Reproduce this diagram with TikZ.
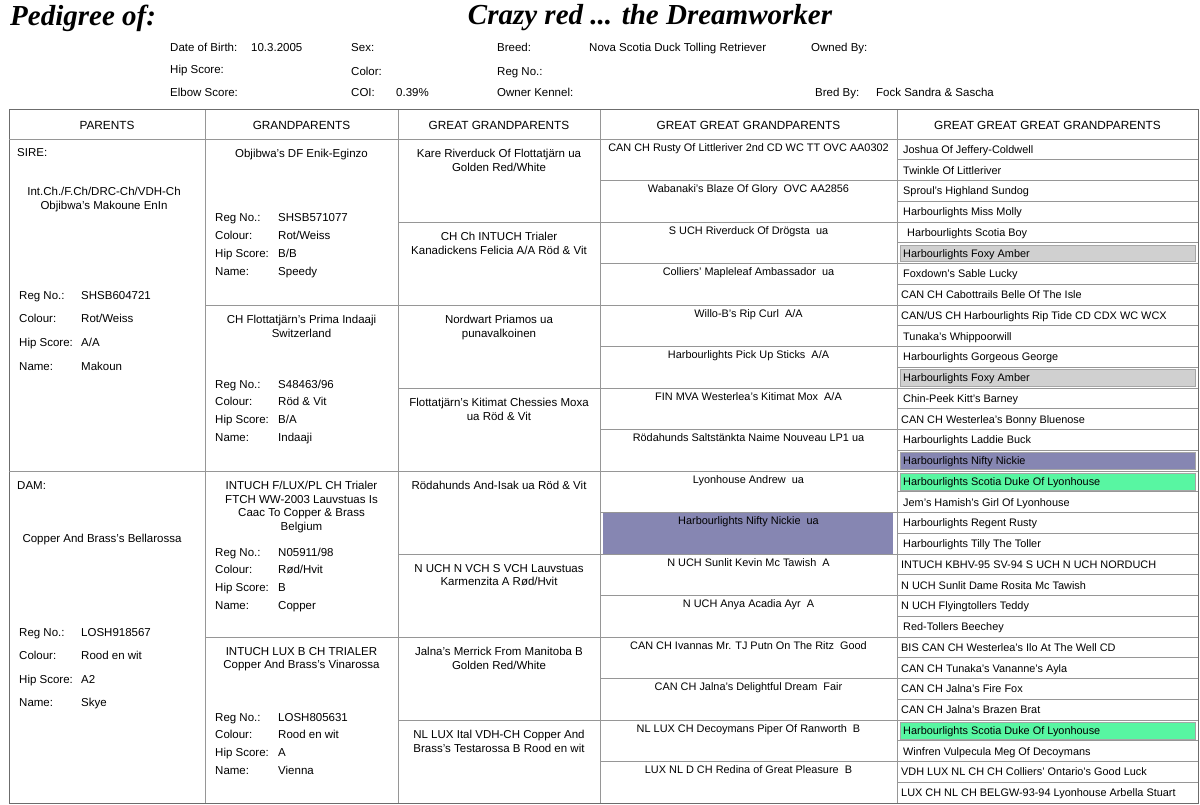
\documentclass[tikz,border=0pt]{standalone}
\usepackage{fontspec}
\setmainfont{Liberation Sans}
\newfontfamily\titleserif{Liberation Serif}
\usetikzlibrary{positioning}

\definecolor{nickie}{RGB}{134,134,178}
\definecolor{duke}{RGB}{88,246,162}
\definecolor{amber}{RGB}{208,208,208}
\definecolor{rulegray}{RGB}{150,150,150}

\begin{document}
\begin{tikzpicture}[
    x=1pt, y=-1pt,
    font=\fontsize{11.5}{13.5}\selectfont,
    rule/.style      = {rulegray, line width=0.9pt},
    frame/.style     = {gray!85!black, line width=1pt},
    bigtitle/.style  = {font=\titleserif\fontsize{29}{32}\selectfont\bfseries\itshape, inner sep=0pt},
    info/.style      = {anchor=base west, inner sep=0pt, yshift=-4pt},
    colhead/.style   = {inner sep=0pt, font=\fontsize{11.8}{14}\selectfont},
    dogname/.style   = {anchor=north, align=center, inner sep=0pt},
    smallname/.style = {dogname, font=\fontsize{10.9}{13}\selectfont},
    ancestor/.style  = {anchor=base west, inner sep=0pt, yshift=-3.9pt, font=\fontsize{10.9}{13}\selectfont},
    tint/.style      = {draw=gray!70, line width=0.4pt}
  ]

\useasboundingbox (0,0) rectangle (1200,805);

% =========================================================
% TITLE & GENERAL DATA
% =========================================================
\node[bigtitle, anchor=west] (title) at (10,18) {Pedigree of:};
\node[bigtitle] (dogtitle) at (650,18) {Crazy red ... the Dreamworker};

\node[info] (dob)     at (170,48) {Date of Birth:};
\node[info] (dob-v)   at (251,48) {10.3.2005};
\node[info] (hip)     at (170,70) {Hip Score:};
\node[info] (elbow)   at (170,93) {Elbow Score:};
\node[info] (sex)     at (351,48) {Sex:};
\node[info] (color)   at (351,72) {Color:};
\node[info] (coi)     at (351,93) {COI:};
\node[info] (coi-v)   at (396,93) {0.39\%};
\node[info] (breed)   at (497,48) {Breed:};
\node[info] (breed-v) at (589,48) {Nova Scotia Duck Tolling Retriever};
\node[info] (regno)   at (497,72) {Reg No.:};
\node[info] (kennel)  at (497,93) {Owner Kennel:};
\node[info] (owned)   at (811,48) {Owned By:};
\node[info] (bred)    at (815,93) {Bred By:};
\node[info] (bred-v)  at (876,93) {Fock Sandra \& Sascha};

% =========================================================
% HIGHLIGHTED ANCESTORS (repeated in the pedigree)
% =========================================================
\fill[nickie] (603,{139+41.5*9}) rectangle (893,{139+41.5*10});
\foreach \r/\tone in {5/amber, 11/amber, 15/nickie, 16/duke, 28/duke}
  \filldraw[fill=\tone, tint] (900,{139+20.75*\r+2}) rectangle (1195,{139+20.75*(\r+1)-2});

% =========================================================
% TABLE RULES
% =========================================================
\draw[frame] (9,110) rectangle (1198,803);
\draw[rule] (9,139) -- (1198,139);
\foreach \cx in {205,398,600,897} \draw[rule] (\cx,110) -- (\cx,803);
\draw[rule] (9,471) -- (205,471);
\foreach \k in {1,2,3}    \draw[rule] (205,{139+166*\k}) -- (398,{139+166*\k});
\foreach \k in {1,...,7}  \draw[rule] (398,{139+83*\k}) -- (600,{139+83*\k});
\foreach \k in {1,...,15} \draw[rule] (600,{139+41.5*\k}) -- (897,{139+41.5*\k});
\foreach \k in {1,...,31} \draw[rule] (897,{139+20.75*\k}) -- (1198,{139+20.75*\k});

% column headers
\foreach \cl/\cr/\hd [count=\c] in {9/205/PARENTS, 205/398/GRANDPARENTS,
    398/600/GREAT GRANDPARENTS, 600/897/GREAT GREAT GRANDPARENTS,
    897/1198/GREAT GREAT GREAT GRANDPARENTS}
  \node[colhead] (head-\c) at ({(\cl+\cr)/2},125) {\hd};

% =========================================================
% PARENTS
% =========================================================
\node[info] (sire-role) at (17,153) {SIRE:};
\node[dogname] (sire) at (104,187) {Int.Ch./F.Ch/DRC-Ch/VDH-Ch\\Objibwa's Makoune EnIn};
\foreach \lbl/\val [count=\k from 0] in {Reg No.:/SHSB604721, Colour:/{Rot/Weiss},
    Hip Score:/{A/A}, Name:/Makoun} {
  \node[info] (sire-l\k) at (19,{295+23.7*\k}) {\lbl};
  \node[info] (sire-v\k) at (81,{295+23.7*\k}) {\val};
}

\node[info] (dam-role) at (17,485) {DAM:};
\node[dogname] (dam) at (102,534) {Copper And Brass's Bellarossa};
\foreach \lbl/\val [count=\k from 0] in {Reg No.:/LOSH918567, Colour:/Rood en wit,
    Hip Score:/A2, Name:/Skye} {
  \node[info] (dam-l\k) at (19,{632+23.5*\k}) {\lbl};
  \node[info] (dam-v\k) at (81,{632+23.5*\k}) {\val};
}

% =========================================================
% GRANDPARENTS
% =========================================================
\foreach \top/\nm/\dy/\reg/\col/\hip/\call [count=\g] in {
    139/{Objibwa's DF Enik-Eginzo}/79/SHSB571077/{Rot/Weiss}/{B/B}/Speedy,
    305/{CH Flottatjärn's Prima Indaaji\\Switzerland}/79/{S48463/96}/{Röd \& Vit}/{B/A}/Indaaji,
    471/{INTUCH F/LUX/PL CH Trialer\\FTCH WW-2003 Lauvstuas Is\\Caac To Copper \& Brass\\Belgium}/81/{N05911/98}/{Rød/Hvit}/B/Copper,
    637/{INTUCH LUX B CH TRIALER\\Copper And Brass's Vinarossa}/80/LOSH805631/{Rood en wit}/A/Vienna} {
  \node[dogname] (gp-\g) at (301.5,{\top+10}) {\nm};
  \foreach \lbl/\val [count=\k from 0] in {Reg No.:/\reg, Colour:/\col, Hip Score:/\hip, Name:/\call} {
    \node[info] (gp-\g-l\k) at (215,{\top+\dy+17.7*\k}) {\lbl};
    \node[info] (gp-\g-v\k) at (278,{\top+\dy+17.7*\k}) {\val};
  }
}

% =========================================================
% GREAT GRANDPARENTS
% =========================================================
\foreach \nm [count=\i] in {
    {Kare Riverduck Of Flottatjärn ua\\Golden Red/White},
    {CH Ch INTUCH Trialer\\Kanadickens Felicia A/A Röd \& Vit},
    {Nordwart Priamos ua\\punavalkoinen},
    {Flottatjärn's Kitimat Chessies Moxa\\ua Röd \& Vit},
    {Rödahunds And-Isak ua Röd \& Vit},
    {N UCH N VCH S VCH Lauvstuas\\Karmenzita A Rød/Hvit},
    {Jalna's Merrick From Manitoba B\\Golden Red/White},
    {NL LUX Ital VDH-CH Copper And\\Brass's Testarossa B Rood en wit}}
  \node[dogname] (ggp-\i) at (499,{139+83*(\i-1)+10}) {\nm};

% =========================================================
% GREAT GREAT GRANDPARENTS
% =========================================================
\foreach \nm [count=\i] in {
    {CAN CH Rusty Of Littleriver 2nd CD WC TT OVC AA0302},
    {Wabanaki's Blaze Of Glory~~OVC AA2856},
    {S UCH Riverduck Of Drögsta~~ua},
    {Colliers' Mapleleaf Ambassador~~ua},
    {Willo-B's Rip Curl~~A/A},
    {Harbourlights Pick Up Sticks~~A/A},
    {FIN MVA Westerlea's Kitimat Mox~~A/A},
    {Rödahunds Saltstänkta Naime Nouveau LP1 ua},
    {Lyonhouse Andrew~~ua},
    {Harbourlights Nifty Nickie~~ua},
    {N UCH Sunlit Kevin Mc Tawish~~A},
    {N UCH Anya Acadia Ayr~~A},
    {CAN CH Ivannas Mr. TJ Putn On The Ritz~~Good},
    {CAN CH Jalna's Delightful Dream~~Fair},
    {NL LUX CH Decoymans Piper Of Ranworth~~B},
    {LUX NL D CH Redina of Great Pleasure~~B}}
  \node[smallname] (gggp-\i) at (748.5,{139+41.5*(\i-1)+4}) {\nm};

% =========================================================
% GREAT GREAT GREAT GRANDPARENTS
% =========================================================
\foreach \xo/\nm [count=\i] in {
    903/{Joshua Of Jeffery-Coldwell}, 903/{Twinkle Of Littleriver},
    903/{Sproul's Highland Sundog}, 903/{Harbourlights Miss Molly},
    907/{Harbourlights Scotia Boy}, 903/{Harbourlights Foxy Amber},
    903/{Foxdown's Sable Lucky}, 901/{CAN CH Cabottrails Belle Of The Isle},
    901/{CAN/US CH Harbourlights Rip Tide CD CDX WC WCX}, 903/{Tunaka's Whippoorwill},
    903/{Harbourlights Gorgeous George}, 903/{Harbourlights Foxy Amber},
    903/{Chin-Peek Kitt's Barney}, 901/{CAN CH Westerlea's Bonny Bluenose},
    903/{Harbourlights Laddie Buck}, 903/{Harbourlights Nifty Nickie},
    903/{Harbourlights Scotia Duke Of Lyonhouse}, 903/{Jem's Hamish's Girl Of Lyonhouse},
    903/{Harbourlights Regent Rusty}, 903/{Harbourlights Tilly The Toller},
    901/{INTUCH KBHV-95 SV-94 S UCH N UCH NORDUCH}, 901/{N UCH Sunlit Dame Rosita Mc Tawish},
    901/{N UCH Flyingtollers Teddy}, 903/{Red-Tollers Beechey},
    901/{BIS CAN CH Westerlea's Ilo At The Well CD}, 901/{CAN CH Tunaka's Vananne's Ayla},
    901/{CAN CH Jalna's Fire Fox}, 901/{CAN CH Jalna's Brazen Brat},
    903/{Harbourlights Scotia Duke Of Lyonhouse}, 903/{Winfren Vulpecula Meg Of Decoymans},
    901/{VDH LUX NL CH CH Colliers' Ontario's Good Luck},
    901/{LUX CH NL CH BELGW-93-94 Lyonhouse Arbella Stuart}}
  \node[ancestor] (g5-\i) at (\xo,{139+20.75*(\i-0.5)}) {\nm};

\end{tikzpicture}
\end{document}
